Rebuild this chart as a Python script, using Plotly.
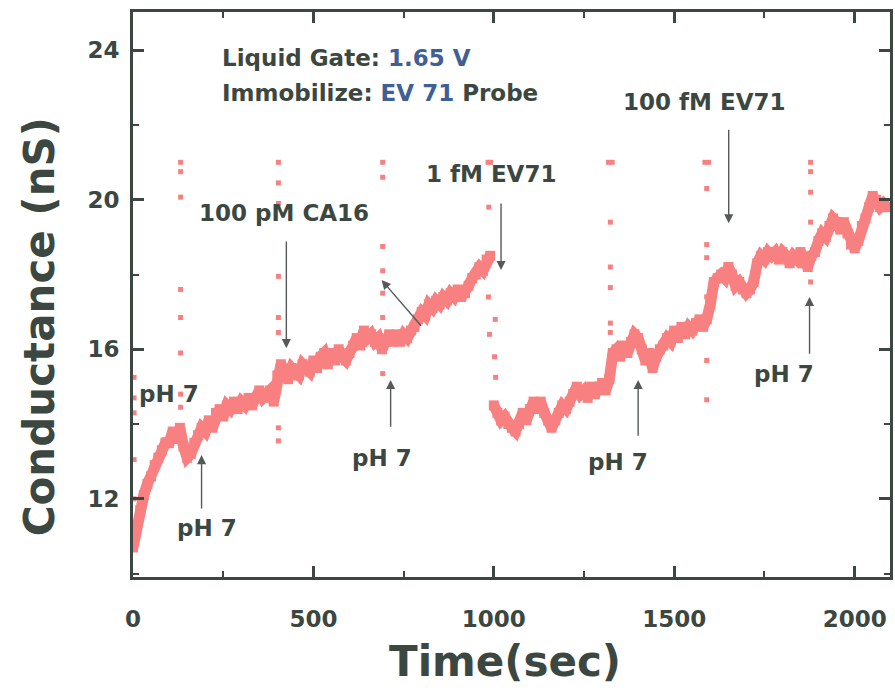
import plotly.graph_objects as go

# ---------------- data ----------------
T_START = 0
T_STEP = 10
conductance = [
    10.7, 11.3, 11.7, 12.1, 12.4, 12.6, 12.9, 13.1, 13.3, 13.5,
    13.5, 13.8, 13.6, 13.9, 13.4, 13.1, 13.2, 13.5, 13.7, 13.9,
    13.8, 14.1, 13.9, 14.3, 14.4, 14.2, 14.5, 14.4, 14.6, 14.4,
    14.6, 14.5, 14.7, 14.5, 14.7, 14.9, 14.7, 14.8, 14.9, 14.6,
    15.3, 15.6, 15.4, 15.2, 15.5, 15.4, 15.3, 15.6, 15.5, 15.4,
    15.7, 15.5, 15.8, 15.9, 15.6, 15.9, 15.7, 16.0, 15.8, 15.7,
    15.9, 16.1, 16.3, 16.1, 16.5, 16.3, 16.4, 16.2, 16.3, 16.0,
    16.2, 16.4, 16.2, 16.4, 16.2, 16.4, 16.3, 16.5, 16.6, 16.8,
    17.0, 16.9, 17.2, 17.1, 17.3, 17.2, 17.4, 17.3, 17.5, 17.4,
    17.6, 17.4, 17.5, 17.7, 17.9, 18.0, 18.2, 18.1, 18.4, 18.5,
    14.5, 14.3, 14.1, 14.2, 14.0, 13.9, 13.8, 14.0, 14.3, 14.1,
    14.4, 14.6, 14.4, 14.6, 14.3, 14.1, 13.9, 14.1, 14.3, 14.5,
    14.4, 14.6, 14.8, 15.0, 14.8, 14.9, 14.7, 15.0, 14.8, 15.0,
    15.1, 14.9, 15.2, 15.9, 16.0, 15.8, 16.1, 15.9, 16.2, 16.4,
    16.3, 16.0, 15.7, 15.9, 15.5, 15.8, 16.0, 16.1, 16.3, 16.2,
    16.5, 16.3, 16.6, 16.4, 16.6, 16.5, 16.7, 16.8, 16.6, 16.8,
    17.2, 17.8, 17.9, 18.0, 17.9, 18.2, 18.0, 17.7, 17.8, 17.6,
    17.5, 17.6, 17.8, 18.3, 18.5, 18.4, 18.6, 18.5, 18.6, 18.4,
    18.6, 18.5, 18.3, 18.5, 18.4, 18.6, 18.3, 18.2, 18.5, 18.6,
    18.9, 19.1, 19.0, 19.3, 19.5, 19.4, 19.2, 19.4, 19.1, 18.8,
    18.7, 18.9, 19.3, 19.5, 19.8, 20.1, 20.0, 19.8, 19.9, 19.8,
]
break_before_time = [1000]   # trace drops sharply here (no connecting line)

# isolated points at each injection (spikes)
spike_t = [3, 3, 3, 3, 3,
           132, 132, 132, 132, 132, 132, 132, 132,
           403, 403, 403, 403, 403, 403, 403, 403,
           692, 692, 692, 692, 692, 692, 692,
           984, 991, 986, 985, 1004, 988, 1002, 1005,
           1318, 1328, 1323, 1323, 1323, 1323, 1323,
           1585, 1595, 1590, 1590, 1590, 1590, 1590, 1590,
           1878, 1878, 1878, 1878, 1878]
spike_v = [15.25, 14.7, 14.3, 13.05, 12.0,
           21.0, 20.75, 20.07, 17.6, 16.85, 15.9, 14.8, 14.45,
           21.0, 20.45, 19.9, 17.95, 16.85, 16.45, 13.9, 13.55,
           21.0, 20.6, 18.75, 18.1, 17.5, 16.85, 15.35,
           21.0, 21.0, 19.8, 17.4, 16.8, 16.4, 15.8, 15.25,
           21.0, 21.0, 19.4, 18.2, 17.65, 16.7, 16.45,
           21.0, 21.0, 20.3, 18.8, 18.45, 17.4, 15.7, 14.65,
           21.0, 20.75, 20.2, 19.4, 17.8]

x_ticks = [0, 500, 1000, 1500, 2000]
y_ticks = [12, 16, 20, 24]

# labels with arrows: (text, text_x, text_y, head_x, head_y, tail_x, tail_y)
labels = [
    ("pH 7", 204, 11.22, 190, 13.17, 190, 11.7),
    ("100 pM CA16", 418, 19.64, 425, 16.03, 425, 18.92),
    ("pH 7", 689, 13.09, 714, 15.18, 714, 13.89),
    ("1 fM EV71", 991, 20.68, 1020, 18.12, 1020, 19.94),
    ("100 fM EV71", 1583, 22.61, 1651, 19.37, 1651, 21.91),
    ("pH 7", 1345, 12.98, 1400, 15.18, 1400, 13.65),
    ("pH 7", 1804, 15.34, 1875, 17.4, 1875, 15.84),
]
extra_arrow = (689, 17.85, 802, 16.59)   # head x, head y, tail x, tail y

# ---------------- styling ----------------
INK = "#3b4740"
BLUE = "#3f5f95"
RED = "#f88080"
FONT = "DejaVu Sans"

times = [T_START + i * T_STEP for i in range(len(conductance))]
xs, ys = [], []
for t, v in zip(times, conductance):
    if t in break_before_time:
        xs.append(None)
        ys.append(None)
    xs.append(t)
    ys.append(v)

fig = go.Figure()
fig.add_trace(go.Scatter(
    x=xs, y=ys, mode="lines+markers",
    line=dict(color=RED, width=11),
    marker=dict(symbol="square", size=10, color=RED),
    connectgaps=False, hoverinfo="skip", showlegend=False))
fig.add_trace(go.Scatter(
    x=spike_t, y=spike_v, mode="markers",
    marker=dict(symbol="square", size=5, color=RED),
    hoverinfo="skip", showlegend=False))

annotations = []
for text, tx, ty, hx, hy, ax_, ay_ in labels:
    annotations.append(dict(x=tx, y=ty, xref="x", yref="y", text=text,
                            showarrow=False, xanchor="center", yanchor="middle",
                            font=dict(family=FONT, size=23, color=INK, weight="bold")))
    annotations.append(dict(x=hx, y=hy, ax=ax_, ay=ay_, xref="x", yref="y",
                            axref="x", ayref="y", text="", showarrow=True,
                            arrowhead=2, arrowsize=1.3, arrowwidth=1.4,
                            arrowcolor="#555a58", standoff=0, startstandoff=0))
annotations.append(dict(x=extra_arrow[0], y=extra_arrow[1], ax=extra_arrow[2],
                        ay=extra_arrow[3], xref="x", yref="y", axref="x", ayref="y",
                        text="", showarrow=True, arrowhead=2, arrowsize=1.3,
                        arrowwidth=1.4, arrowcolor="#555a58"))
annotations.append(dict(x=11, y=14.8, xref="x", yref="y", text="pH 7",
                        showarrow=False, xanchor="left", yanchor="middle",
                        font=dict(family=FONT, size=23, color=INK, weight="bold")))
annotations.append(dict(x=240, y=23.79, xref="x", yref="y",
                        text="Liquid Gate: <span style='color:%s'>1.65 V</span>" % BLUE,
                        showarrow=False, xanchor="left", yanchor="middle",
                        font=dict(family=FONT, size=23, color=INK, weight="bold")))
annotations.append(dict(x=240, y=22.85, xref="x", yref="y",
                        text="Immobilize: <span style='color:%s'>EV 71</span> Probe" % BLUE,
                        showarrow=False, xanchor="left", yanchor="middle",
                        font=dict(family=FONT, size=23, color=INK, weight="bold")))
# axis titles
annotations.append(dict(x=-0.1224, y=0.4425, xref="paper", yref="paper",
                        text="Conductance (nS)", textangle=-90, showarrow=False,
                        xanchor="center", yanchor="middle",
                        font=dict(family=FONT, size=42, color=INK, weight="bold")))
annotations.append(dict(x=0.492, y=-0.15, xref="paper", yref="paper",
                        text="Time(sec)", showarrow=False,
                        xanchor="center", yanchor="middle",
                        font=dict(family=FONT, size=42, color=INK, weight="bold")))

axis_common = dict(showgrid=False, zeroline=False, showline=True, linewidth=3,
                   linecolor=INK, mirror="ticks", ticks="inside", ticklen=11,
                   tickwidth=3, tickcolor=INK,
                   tickfont=dict(family=FONT, size=23, color=INK, weight="bold"))

fig.update_layout(
    width=895, height=694,
    margin=dict(l=133, r=2, t=12, b=117),
    paper_bgcolor="white", plot_bgcolor="white",
    xaxis=dict(range=[0, 2098], tickvals=x_ticks, ticklabelstandoff=19,
               minor=dict(ticks="inside", ticklen=6, tickwidth=2, tickcolor=INK, dtick=250, tick0=0),
               **axis_common),
    yaxis=dict(range=[9.91, 25.02], tickvals=y_ticks, ticklabelstandoff=6,
               minor=dict(ticks="inside", ticklen=6, tickwidth=2, tickcolor=INK, dtick=2, tick0=0),
               **axis_common),
    annotations=annotations,
)

fig.write_html("out.html")
